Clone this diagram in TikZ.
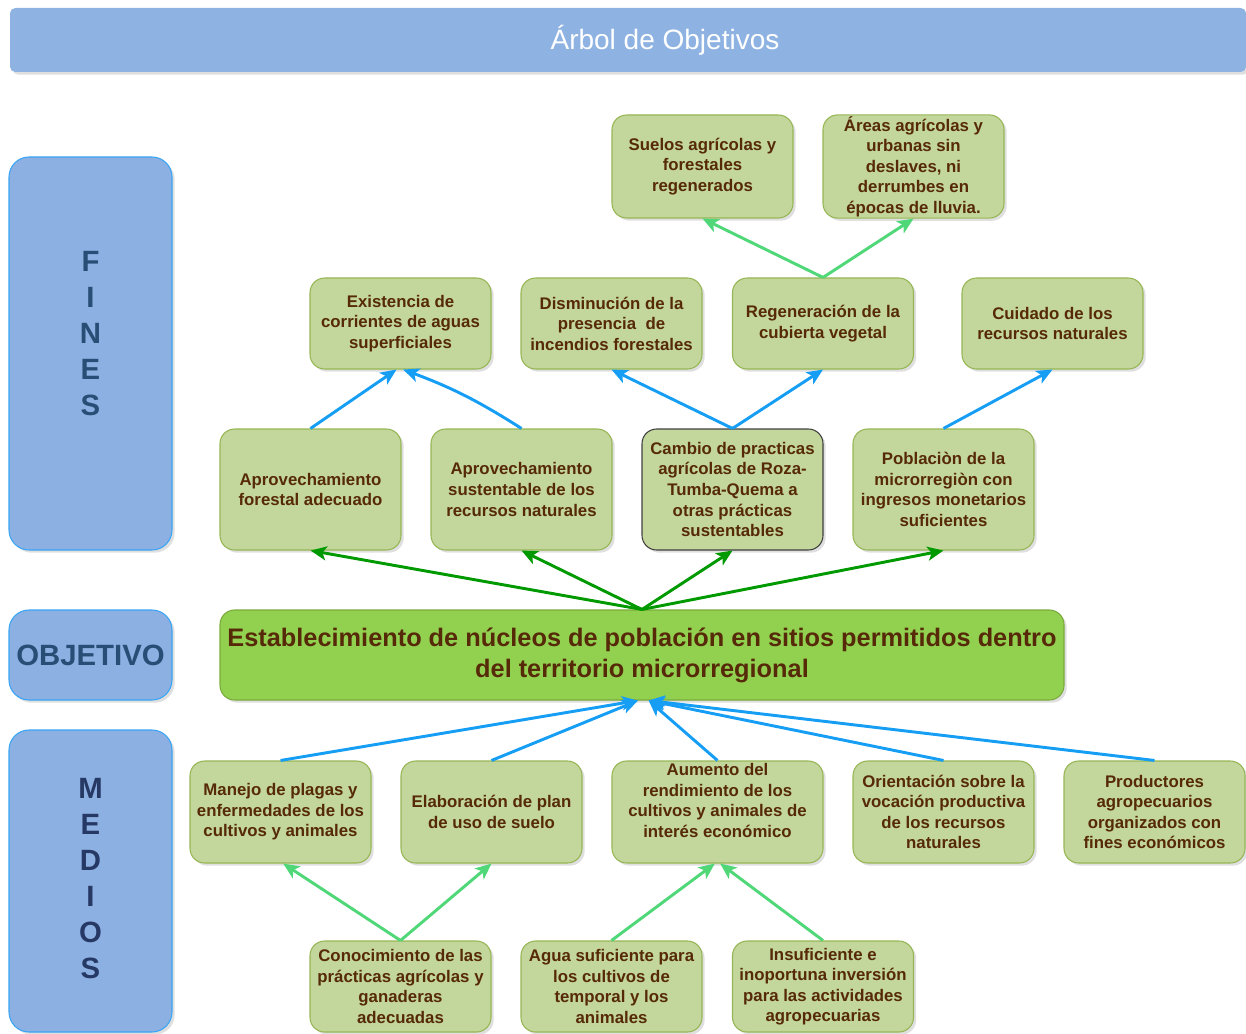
\documentclass[tikz,border=0pt]{standalone}
\usepackage{fontspec}
\setmainfont{Liberation Sans}
\usetikzlibrary{arrows.meta,shadows,calc}
\definecolor{titlefill}{RGB}{142,179,226}
\definecolor{sidefill}{RGB}{141,176,227}
\definecolor{sideborder}{RGB}{58,165,245}
\definecolor{sidetext}{RGB}{40,78,118}
\definecolor{sidetextb}{RGB}{38,56,100}
\definecolor{gfill}{RGB}{195,214,155}
\definecolor{gborder}{RGB}{150,182,84}
\definecolor{gtext}{RGB}{86,42,8}
\definecolor{ofill}{RGB}{146,208,80}
\definecolor{oborder}{RGB}{122,170,60}
\definecolor{lgreen}{RGB}{80,215,120}
\definecolor{dgreen}{RGB}{0,154,0}
\definecolor{barrow}{RGB}{22,158,245}
\tikzset{
  shadowed/.style={drop shadow={shadow xshift=2pt,shadow yshift=-2pt,opacity=0.25,fill=black!50}},
  gbox/.style={shadowed,draw=gborder,fill=gfill,line width=0.8pt,rounded corners=11pt,
    align=center,text=gtext,inner sep=1pt,minimum width=135.75pt,
    font=\fontsize{12.6}{15.4}\selectfont\bfseries},
  sidebox/.style={shadowed,draw=sideborder,fill=sidefill,line width=0.8pt,rounded corners=15pt,
    minimum width=122.25pt,align=center},
  sidelabel/.style={align=center,font=\fontsize{22}{27}\selectfont\bfseries},
  lgarrow/.style={draw=lgreen,line width=2.2pt,-{Stealth[length=12pt,width=10.5pt,inset=3pt]}},
  dgarrow/.style={draw=dgreen,line width=2.2pt,-{Stealth[length=12pt,width=10.5pt,inset=3pt]}},
  blarrow/.style={draw=barrow,line width=2.2pt,-{Stealth[length=12pt,width=10.5pt,inset=3pt]}},
}
\begin{document}
\begin{tikzpicture}[x=0.75pt,y=-0.75pt]
\useasboundingbox (0,0) rectangle (1246,1034);
% title
\node[shadowed,fill=titlefill,rounded corners=4pt,minimum width=927pt,minimum height=48pt,inner sep=0pt] (title) at (628,40) {};
\node[text=white,font=\fontsize{21}{24}\selectfont] (titletext) at (665,40) {Árbol de Objetivos};
% side boxes
\node[sidebox,minimum height=294.75pt] (fines) at (90.5,353.5) {};
\node[sidelabel,text=sidetext] (fineslbl) at (90.5,334) {F\\I\\N\\E\\S};
\node[sidebox,minimum height=67.5pt,sidelabel,text=sidetext] (objlbl) at (90.5,655) {OBJETIVO};
\node[sidebox,minimum height=226.5pt] (medios) at (90.5,881) {};
\node[sidelabel,text=sidetextb] (medioslbl) at (90.5,879) {M\\E\\D\\I\\O\\S};
% top row
\node[gbox,minimum height=77.25pt] (A1) at (702.5,166.5) {Suelos agrícolas y\\forestales\\regenerados};
\node[gbox,minimum height=77.25pt] (A2) at (913.5,166.5) {Áreas agrícolas y\\urbanas sin\\deslaves, ni\\derrumbes en\\épocas de lluvia.};
% row 2
\node[gbox,minimum height=68.25pt] (B1) at (400.5,323.5) {Existencia de\\corrientes de aguas\\superficiales};
\node[gbox,minimum height=68.25pt] (B2) at (611.5,323.5) {Disminución de la\\presencia\ \ de\\incendios forestales};
\node[gbox,minimum height=68.25pt] (B3) at (823,323.5) {Regeneración de la\\cubierta vegetal};
\node[gbox,minimum height=68.25pt] (B4) at (1052.5,323.5) {Cuidado de los\\recursos naturales};
% row 3
\node[gbox,minimum height=90.75pt] (C1) at (310.5,489.5) {Aprovechamiento\\forestal adecuado};
\node[gbox,minimum height=90.75pt] (C2) at (521.5,489.5) {Aprovechamiento\\sustentable de los\\recursos naturales};
\node[gbox,minimum height=90.75pt,draw=black!75] (C3) at (732.5,489.5) {Cambio de practicas\\agrícolas de Roza-\\Tumba-Quema a\\otras prácticas\\sustentables};
\node[gbox,minimum height=90.75pt] (C4) at (943.5,489.5) {Poblaciòn de la\\microrregiòn con\\ingresos monetarios\\suficientes};
% objective
\node[gbox,fill=ofill,draw=oborder,minimum width=633pt,minimum height=67.5pt,
  font=\fontsize{19}{23.2}\selectfont\bfseries] (OBJ) at (642,655)
  {Establecimiento de núcleos de población en sitios permitidos dentro\\del territorio microrregional};
% medios
\node[gbox,minimum height=76.5pt] (D1) at (280.5,812) {Manejo de plagas y\\enfermedades de los\\cultivos y animales};
\node[gbox,minimum height=76.5pt] (D2) at (491.5,812) {Elaboración de plan\\de uso de suelo};
\node[gbox,minimum height=76.5pt,minimum width=158.25pt] (D3) at (717.5,812) {};
\node[align=center,text=gtext,font=\fontsize{12.6}{15.4}\selectfont\bfseries] (D3t) at (717.5,800.5) {Aumento del\\rendimiento de los\\cultivos y animales de\\interés económico};
\node[gbox,minimum height=76.5pt] (D4) at (943.5,812) {Orientación sobre la\\vocación productiva\\de los recursos\\naturales};
\node[gbox,minimum height=76.5pt] (D5) at (1154.5,812) {Productores\\agropecuarios\\organizados con\\fines económicos};
% bottom row
\node[gbox,minimum height=68.25pt] (E1) at (400.5,986.5) {Conocimiento de las\\prácticas agrícolas y\\ganaderas\\adecuadas};
\node[gbox,minimum height=68.25pt] (E2) at (611.5,986.5) {Agua suficiente para\\los cultivos de\\temporal y los\\animales};
\node[gbox,minimum height=68.25pt] (E3) at (823,986.5) {Insuficiente e\\inoportuna inversión\\para las actividades\\agropecuarias};
% arrows top
\draw[lgarrow] (B3.north) -- (A1.south);
\draw[lgarrow] (B3.north) -- (A2.south);
\draw[blarrow] (C1.north) -- ([xshift=-3pt]B1.south);
\draw[blarrow] (C2.north) to[bend right=6] ([xshift=2pt]B1.south);
\draw[blarrow] (C3.north) -- (B2.south);
\draw[blarrow] (C3.north) -- (B3.south);
\draw[blarrow] (C4.north) -- (B4.south);
\draw[dgarrow] (OBJ.north) -- (C1.south);
\draw[dgarrow] (OBJ.north) -- (C2.south);
\draw[dgarrow] (OBJ.north) -- (C3.south);
\draw[dgarrow] (OBJ.north) -- (C4.south);
% arrows bottom
\draw[blarrow] (D1.north) -- ([xshift=-3pt]OBJ.south);
\draw[blarrow] (D2.north) -- ([xshift=-3pt]OBJ.south);
\draw[blarrow] (D3.north) -- ([xshift=5pt]OBJ.south);
\draw[blarrow] (D4.north) -- ([xshift=5pt]OBJ.south);
\draw[blarrow] (D5.north) -- ([xshift=5pt]OBJ.south);
\draw[lgarrow] (E1.north) -- ([xshift=2pt]D1.south);
\draw[lgarrow] (E1.north) -- (D2.south);
\draw[lgarrow] (E2.north) -- ([xshift=-2pt]D3.south);
\draw[lgarrow] (E3.north) -- ([xshift=2pt]D3.south);
\end{tikzpicture}
\end{document}
